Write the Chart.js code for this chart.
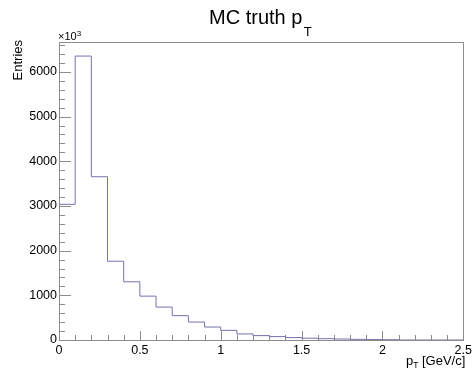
<!DOCTYPE html>
<html>
<head>
<meta charset="utf-8">
<script src="https://cdn.jsdelivr.net/npm/chart.js@4/dist/chart.umd.min.js"></script>
<style>
  html, body { margin: 0; padding: 0; background: #fff; }
  canvas { display: block; }
</style>
</head>
<body>
<canvas id="c" width="475" height="369"></canvas>
<script>
// Histogram of MC truth transverse momentum, 25 bins of 0.1 GeV/c
const binLowEdges = [0.0, 0.1, 0.2, 0.3, 0.4, 0.5, 0.6, 0.7, 0.8, 0.9,
                     1.0, 1.1, 1.2, 1.3, 1.4, 1.5, 1.6, 1.7, 1.8, 1.9,
                     2.0, 2.1, 2.2, 2.3, 2.4];
const binHighEdge = 2.5;
const entries = [3036, 6355, 3654, 1763, 1303, 982, 737, 545, 402, 290,
                 216, 135, 98, 76, 54, 40, 30, 22, 15, 10,
                 6, 0, 0, 0, 0];

const xTicks = [0, 0.5, 1, 1.5, 2, 2.5];
const xTickLabels = ['0', '0.5', '1', '1.5', '2', '2.5'];
const yTicks = [0, 1000, 2000, 3000, 4000, 5000, 6000];
const yTickLabels = ['0', '1000', '2000', '3000', '4000', '5000', '6000'];
const yMax = 6670;

const FONT = '"Liberation Sans", Arial, Helvetica, sans-serif';

// outline points: start on the baseline, one point per bin low edge, close at the high edge
const outline = [{ x: binLowEdges[0], y: 0 }];
binLowEdges.forEach((e, i) => outline.push({ x: e, y: entries[i] }));
outline.push({ x: binHighEdge, y: 0 });

const framePlugin = {
  id: 'rootFrame',
  beforeDatasetsDraw(chart) {
    const { ctx, chartArea: a, scales } = chart;
    const xs = scales.x, ys = scales.y;
    ctx.save();
    ctx.strokeStyle = '#8c8c8c';
    ctx.lineWidth = 1;
    // inward tick marks on the y axis
    for (let v = 0; v <= yMax; v += 200) {
      const y = Math.round(ys.getPixelForValue(v)) + 0.5;
      const len = (v % 1000 === 0) ? 12 : 6;
      ctx.beginPath();
      ctx.moveTo(a.left, y);
      ctx.lineTo(a.left + len, y);
      ctx.stroke();
    }
    // inward tick marks on the x axis
    for (let k = 0; k <= 25; k++) {
      const v = k / 10;
      const x = Math.round(xs.getPixelForValue(v)) + 0.5;
      const len = (k % 5 === 0) ? 9 : 5;
      ctx.beginPath();
      ctx.moveTo(x, a.bottom);
      ctx.lineTo(x, a.bottom - len);
      ctx.stroke();
    }
    ctx.restore();
  },
  afterDraw(chart) {
    const { ctx, chartArea: a } = chart;
    ctx.save();
    // frame
    ctx.strokeStyle = '#8c8c8c';
    ctx.lineWidth = 1;
    ctx.strokeRect(Math.round(a.left) + 0.5, Math.round(a.top) + 0.5,
                   Math.round(a.right - a.left), Math.round(a.bottom - a.top));

    ctx.fillStyle = '#000';
    ctx.textBaseline = 'alphabetic';

    // title with subscript
    ctx.font = '20px ' + FONT;
    ctx.textAlign = 'left';
    const tMain = 'MC truth p';
    const tw = ctx.measureText(tMain).width;
    const tx = 209;
    ctx.fillText(tMain, tx, 24);
    ctx.font = '13px ' + FONT;
    ctx.fillText('T', tx + tw + 1.5, 36);

    // exponent marker above the y axis
    ctx.font = '11px ' + FONT;
    ctx.fillText('\u00d710', a.left - 1, 40);
    const ew = ctx.measureText('\u00d710').width;
    ctx.font = '8px ' + FONT;
    ctx.fillText('3', a.left - 1 + ew, 36);

    // y axis title, rotated, flush with the top of the frame
    ctx.save();
    ctx.translate(22, 40);
    ctx.rotate(-Math.PI / 2);
    ctx.font = '13px ' + FONT;
    ctx.textAlign = 'right';
    ctx.fillText('Entries', 0, 0);
    ctx.restore();

    // x axis title, flush with the right end of the axis
    ctx.font = '13px ' + FONT;
    const w1 = ctx.measureText('p').width;
    const w3 = ctx.measureText(' [GeV/c]').width;
    ctx.font = '8.5px ' + FONT;
    const w2 = ctx.measureText('T').width;
    const right = a.right + 2;
    const x0 = right - (w1 + w2 + w3);
    ctx.textAlign = 'left';
    ctx.font = '13px ' + FONT;
    ctx.fillText('p', x0, 365);
    ctx.font = '8.5px ' + FONT;
    ctx.fillText('T', x0 + w1, 368);
    ctx.font = '13px ' + FONT;
    ctx.fillText(' [GeV/c]', x0 + w1 + w2, 365);
    ctx.restore();
  }
};

new Chart(document.getElementById('c'), {
  type: 'line',
  data: {
    datasets: [{
      data: outline,
      stepped: 'before',
      borderColor: '#7272b0',
      borderWidth: 1,
      pointRadius: 0,
      fill: false,
      tension: 0
    }]
  },
  options: {
    responsive: false,
    devicePixelRatio: 1,
    animation: false,
    events: [],
    layout: { padding: { left: 0, right: 11, top: 42, bottom: 0 } },
    plugins: { legend: { display: false }, title: { display: false }, tooltip: { enabled: false } },
    scales: {
      x: {
        type: 'linear',
        min: 0,
        max: binHighEdge,
        grid: { display: false, drawTicks: false },
        border: { display: false },
        afterBuildTicks: (s) => { s.ticks = xTicks.map(v => ({ value: v })); },
        afterFit: (s) => { s.height = 29; },
        ticks: {
          autoSkip: false,
          maxRotation: 0,
          padding: 3,
          color: '#000',
          font: { family: FONT, size: 12.5 },
          callback: (v) => { const i = xTicks.indexOf(v); return i >= 0 ? xTickLabels[i] : ''; }
        }
      },
      y: {
        type: 'linear',
        min: 0,
        max: yMax,
        grid: { display: false, drawTicks: false },
        border: { display: false },
        afterBuildTicks: (s) => { s.ticks = yTicks.map(v => ({ value: v })); },
        afterFit: (s) => { s.width = 59; },
        ticks: {
          autoSkip: false,
          padding: 2,
          color: '#000',
          font: { family: FONT, size: 12.5 },
          callback: (v) => { const i = yTicks.indexOf(v); return i >= 0 ? yTickLabels[i] : ''; }
        }
      }
    }
  },
  plugins: [framePlugin]
});
</script>
</body>
</html>
